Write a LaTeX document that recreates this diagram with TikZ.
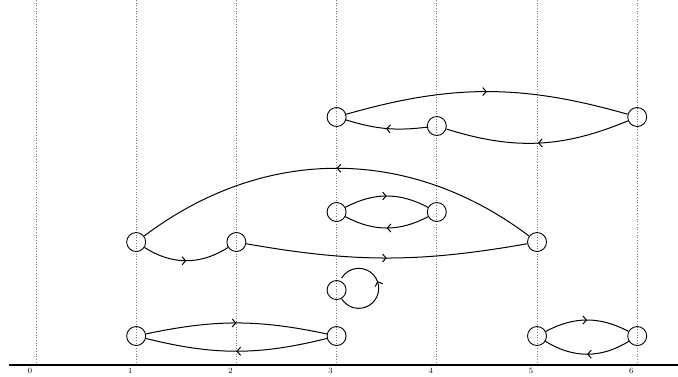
\documentclass[tikz,border=0pt]{standalone}
\usepackage{tikz}
\usetikzlibrary{arrows.meta, decorations.markings}
\definecolor{gridGray}{HTML}{7A7A7A}

\begin{document}
\begin{tikzpicture}[x=100.2pt, y=1pt,
    state/.style={draw, circle, line width=0.9pt, minimum size=19pt, inner sep=0pt},
    flow/.style={line width=1pt, postaction={decorate},
      decoration={markings, mark=at position #1 with {\arrow{Straight Barb[length=3.5pt,width=8pt]}}}},
    flow/.default=0.5,
    guide/.style={gridGray, dotted, line width=0.7pt}]
  \useasboundingbox (-0.359,0) rectangle (6.407,376);
  % columns and axis
  \foreach \i in {0,...,6}{
    \draw[guide] (\i,11) -- (\i,376);
    \node[font=\footnotesize, anchor=north, inner sep=1pt] (lab\i) at (\i-0.06,9) {\i};
  }
  \draw[line width=1.5pt] (-0.27,11) -- (6.41,11);

  % states
  \node[state] (a3) at (3,259) {};
  \node[state] (a4) at (4,250) {};
  \node[state] (a6) at (6,259) {};
  \node[state] (b3) at (3,164) {};
  \node[state] (b4) at (4,164) {};
  \node[state] (c1) at (1,134) {};
  \node[state] (c2) at (2,134) {};
  \node[state] (c5) at (5,134) {};
  \node[state] (d3) at (3,86) {};
  \node[state] (e1) at (1,40) {};
  \node[state] (e3) at (3,40) {};
  \node[state] (e5) at (5,40) {};
  \node[state] (e6) at (6,40) {};

  % transitions
  \draw[flow] (a3) to[bend left=16] (a6);
  \draw[flow] (a6) to[bend left=20] (a4);
  \draw[flow] (a4) to[bend left=12] (a3);
  \draw[flow] (c5) to[bend right=37] (c1);
  \draw[flow] (b3) to[bend left=28] (b4);
  \draw[flow] (b4) to[bend left=28] (b3);
  \draw[flow] (c1) to[bend right=33] (c2);
  \draw[flow] (c2) to[bend right=10] (c5);
  \draw[flow=0.57] (d3.-60) arc[start angle=-149, end angle=149, radius=20pt];
  \draw[flow] (e1) to[bend left=12] (e3);
  \draw[flow] (e3) to[bend left=14] (e1);
  \draw[flow] (e5) to[bend left=28] (e6);
  \draw[flow] (e6) to[bend left=32] (e5);
\end{tikzpicture}
\end{document}
